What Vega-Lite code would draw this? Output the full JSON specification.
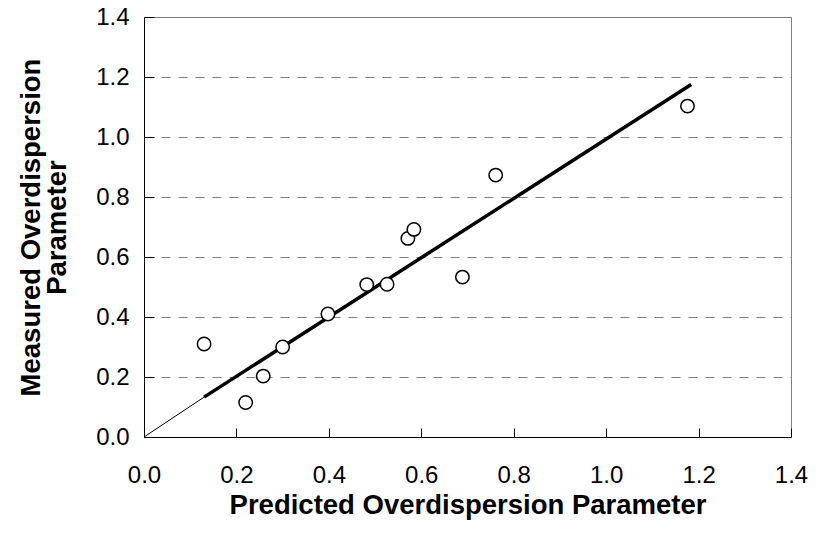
{
  "$schema": "https://vega.github.io/schema/vega-lite/v6.json",
  "autosize": {"type": "none"},
  "width": 647,
  "height": 420,
  "padding": {"left": 144, "top": 17, "right": 30, "bottom": 104},
  "background": "white",
  "config": {
    "font": "Liberation Sans",
    "view": {"stroke": "#808080", "strokeWidth": 1}
  },
  "datasets": {
    "points": [
      {"predicted": 0.13, "measured": 0.31},
      {"predicted": 0.22, "measured": 0.115},
      {"predicted": 0.258, "measured": 0.203},
      {"predicted": 0.30, "measured": 0.30},
      {"predicted": 0.398, "measured": 0.41},
      {"predicted": 0.482, "measured": 0.508},
      {"predicted": 0.526, "measured": 0.509},
      {"predicted": 0.571, "measured": 0.662},
      {"predicted": 0.584, "measured": 0.692},
      {"predicted": 0.689, "measured": 0.533},
      {"predicted": 0.761, "measured": 0.873},
      {"predicted": 1.176, "measured": 1.103}
    ],
    "lines": [
      {"segment": "thin", "predicted": 0.0, "measured": 0.0},
      {"segment": "thin", "predicted": 0.13, "measured": 0.133},
      {"segment": "thick", "predicted": 0.13, "measured": 0.133},
      {"segment": "thick", "predicted": 1.184, "measured": 1.175}
    ]
  },
  "layer": [
    {
      "data": {"name": "lines"},
      "transform": [{"filter": "datum.segment == 'thin'"}],
      "mark": {"type": "line", "color": "black", "strokeWidth": 1, "clip": true},
      "encoding": {
        "x": {"field": "predicted", "type": "quantitative"},
        "y": {"field": "measured", "type": "quantitative"}
      }
    },
    {
      "data": {"name": "lines"},
      "transform": [{"filter": "datum.segment == 'thick'"}],
      "mark": {"type": "line", "color": "black", "strokeWidth": 3.5, "strokeCap": "butt"},
      "encoding": {
        "x": {"field": "predicted", "type": "quantitative"},
        "y": {"field": "measured", "type": "quantitative"}
      }
    },
    {
      "data": {"name": "points"},
      "mark": {"type": "point", "shape": "circle", "filled": true, "fill": "white", "stroke": "black", "strokeWidth": 1.5, "size": 180, "opacity": 1},
      "encoding": {
        "x": {
          "field": "predicted",
          "type": "quantitative",
          "scale": {"domain": [0, 1.4], "nice": false, "zero": true},
          "axis": {
            "title": "Predicted Overdispersion Parameter",
            "values": [0, 0.2, 0.4, 0.6, 0.8, 1.0, 1.2, 1.4],
            "format": ".1f",
            "grid": false,
            "domainColor": "black",
            "domainWidth": 1,
            "tickColor": "black",
            "tickSize": -9,
            "labelPadding": 35,
            "labelFontSize": 24,
            "labelColor": "black",
            "labelFont": "Liberation Sans",
            "labelFlush": false,
            "titleFont": "Liberation Sans",
            "titleFontSize": 27.5,
            "titleFontWeight": "bold",
            "titleColor": "black",
            "titlePadding": 4
          }
        },
        "y": {
          "field": "measured",
          "type": "quantitative",
          "scale": {"domain": [0, 1.4], "nice": false, "zero": true},
          "axis": {
            "title": ["Measured Overdispersion", "Parameter"],
            "values": [0, 0.2, 0.4, 0.6, 0.8, 1.0, 1.2, 1.4],
            "format": ".1f",
            "grid": true,
            "gridColor": "#808080",
            "gridDash": [9, 8],
            "gridWidth": 1,
            "domainColor": "black",
            "domainWidth": 1,
            "tickColor": "black",
            "tickSize": -10,
            "labelPadding": 25,
            "labelFontSize": 24,
            "labelColor": "black",
            "labelFont": "Liberation Sans",
            "labelFlush": false,
            "titleFont": "Liberation Sans",
            "titleFontSize": 27.5,
            "titleFontWeight": "bold",
            "titleColor": "black",
            "titlePadding": 24,
            "titleLineHeight": 26
          }
        }
      }
    }
  ]
}
